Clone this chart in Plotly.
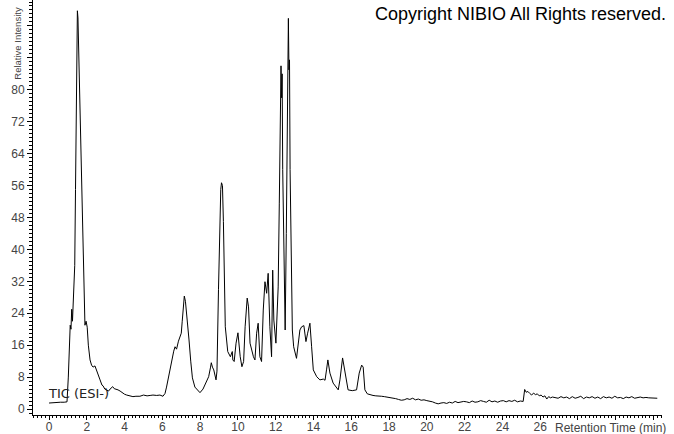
import plotly.graph_objects as go

# Retention time (min) and relative intensity
time_min = [
    0.00, 0.20, 0.40, 0.60, 0.80, 0.95, 1.02, 1.08, 1.12, 1.16, 1.20, 1.24, 1.28, 1.32, 1.36,
    1.40, 1.44, 1.47, 1.50, 1.53, 1.56, 1.59, 1.64, 1.69, 1.75, 1.80, 1.85, 1.90, 1.96, 2.02,
    2.08, 2.17, 2.25, 2.33, 2.43, 2.50, 2.59, 2.70, 2.80, 2.86, 2.95, 3.07, 3.15, 3.23, 3.30,
    3.37, 3.45, 3.55, 3.65, 3.76, 3.90, 4.00, 4.11, 4.25, 4.44, 4.60, 4.81, 5.00, 5.19, 5.35,
    5.50, 5.70, 5.87, 6.03, 6.14, 6.22, 6.30, 6.40, 6.51, 6.60, 6.67, 6.75, 6.85, 6.93, 7.00,
    7.05, 7.10, 7.16, 7.22, 7.30, 7.41, 7.50, 7.59, 7.72, 7.85, 7.99, 8.15, 8.30, 8.45, 8.55,
    8.59, 8.65, 8.72, 8.84, 8.89, 8.97, 9.03, 9.09, 9.13, 9.18, 9.23, 9.29, 9.33, 9.46, 9.60,
    9.70, 9.73, 9.80, 9.90, 10.00, 10.12, 10.21, 10.30, 10.38, 10.49, 10.56, 10.64, 10.82, 10.90, 10.99,
    11.07, 11.16, 11.25, 11.34, 11.43, 11.52, 11.60, 11.69, 11.78, 11.84, 11.90, 12.01, 12.13, 12.19, 12.24,
    12.28, 12.31, 12.34, 12.37, 12.42, 12.50, 12.56, 12.60, 12.63, 12.67, 12.70, 12.73, 12.76, 12.82, 12.88,
    12.95, 13.10, 13.28, 13.37, 13.49, 13.60, 13.69, 13.81, 13.90, 13.99, 14.17, 14.34, 14.52, 14.61, 14.69,
    14.76, 14.87, 15.04, 15.31, 15.40, 15.54, 15.66, 15.83, 16.05, 16.28, 16.42, 16.55, 16.63, 16.72, 16.85,
    17.00, 17.15, 17.30, 17.45, 17.60, 17.75, 17.90, 18.05, 18.20, 18.35, 18.50, 18.65, 18.80, 18.95, 19.10,
    19.25, 19.40, 19.55, 19.70, 19.85, 20.00, 20.15, 20.30, 20.45, 20.60, 20.75, 20.90, 21.05, 21.20, 21.35,
    21.50, 21.65, 21.80, 21.95, 22.10, 22.25, 22.40, 22.55, 22.70, 22.85, 23.00, 23.15, 23.30, 23.45, 23.60,
    23.75, 23.90, 24.05, 24.20, 24.35, 24.50, 24.65, 24.80, 24.95, 25.10, 25.18, 25.26, 25.35, 25.45, 25.55,
    25.65, 25.75, 25.85, 25.95, 26.05, 26.15, 26.25, 26.35, 26.45, 26.55, 26.65, 26.80, 26.95, 27.10, 27.25,
    27.40, 27.55, 27.70, 27.85, 28.00, 28.15, 28.30, 28.45, 28.60, 28.75, 28.90, 29.05, 29.20, 29.35, 29.50,
    29.65, 29.80, 29.95, 30.10, 30.25, 30.40, 30.55, 30.70, 30.85, 31.00, 31.15, 31.30, 31.45, 31.60, 31.75,
    31.90, 32.05, 32.20,
]
intensity = [
    1.5, 1.6, 1.7, 1.7, 1.7, 1.8, 8.0, 18.0, 21.0, 20.0, 25.0, 22.0, 26.0, 31.0, 36.0,
    55.0, 80.0, 97.0, 99.8, 98.0, 92.0, 80.5, 69.0, 61.5, 52.0, 38.0, 26.0, 21.0, 22.0, 20.5,
    16.0, 12.3, 11.0, 10.5, 10.8, 10.0, 9.0, 7.3, 6.0, 5.8, 5.0, 4.6, 4.5, 5.0, 5.4,
    5.6, 5.1, 5.0, 4.8, 4.5, 4.0, 3.7, 3.5, 3.4, 3.1, 3.2, 3.2, 3.5, 3.3, 3.4,
    3.5, 3.4, 3.5, 3.2, 3.9, 5.5, 7.5, 10.5, 13.0, 14.5, 15.6, 15.0, 17.0, 18.0, 19.0,
    22.0, 26.0, 28.3, 27.0, 22.0, 17.3, 12.0, 7.8, 5.5, 4.8, 4.1, 5.0, 6.5, 8.1, 10.5,
    11.6, 10.5, 9.8, 7.3, 9.5, 30.0, 44.0, 55.0, 56.7, 56.0, 47.0, 30.0, 20.6, 14.4, 13.1,
    14.4, 12.3, 11.9, 16.5, 19.1, 13.1, 10.6, 11.9, 20.6, 27.8, 25.6, 16.5, 13.1, 12.3, 19.0,
    21.5, 13.1, 11.9, 24.8, 31.9, 29.0, 34.0, 20.6, 13.1, 34.8, 22.3, 16.5, 30.6, 51.6, 70.0,
    86.0, 78.0, 84.0, 60.0, 40.0, 19.8, 44.0, 70.0, 83.0, 97.9, 85.0, 87.5, 60.0, 35.0, 19.8,
    15.6, 12.7, 19.8, 20.6, 20.9, 16.9, 19.0, 21.5, 15.6, 9.8, 8.1, 7.3, 7.5, 7.2, 9.8,
    12.3, 9.0, 6.5, 4.8, 7.3, 12.8, 9.0, 4.8, 4.6, 4.8, 9.0, 11.0, 10.5, 4.8, 3.8,
    3.5, 3.4, 3.3, 3.3, 3.2, 3.1, 3.0, 2.9, 2.7, 2.6, 2.4, 2.2, 2.3, 2.6, 2.4,
    2.7, 2.3, 2.5, 2.2, 2.3, 2.1, 2.0, 1.8, 1.5, 1.3, 1.5, 1.6, 1.4, 1.7, 1.5,
    1.9, 1.6, 1.7, 1.9, 1.8, 1.6, 2.0, 1.7, 1.8, 2.1, 1.9, 1.7, 2.2, 1.8, 2.0,
    1.7, 2.0, 2.1, 1.8, 2.1, 1.9, 2.2, 1.8, 2.0, 1.9, 4.9, 4.2, 4.4, 3.9, 3.5,
    4.0, 3.6, 3.8, 3.3, 3.5, 3.0, 3.3, 2.5, 3.1, 2.8, 3.0, 2.9, 2.7, 3.1, 2.8,
    3.0, 2.6, 3.1, 2.7, 2.9, 3.2, 2.6, 3.0, 2.8, 3.1, 2.7, 3.0, 2.6, 3.1, 2.8,
    3.0, 2.7, 3.2, 2.8, 2.9, 2.6, 3.0, 2.8, 3.1, 2.7, 2.9, 3.0, 2.8, 2.9, 2.8,
    2.8, 2.7, 2.7,
]

x_tick_vals = list(range(0, 34, 2))
x_tick_text = [str(v) if v <= 26 else "" for v in x_tick_vals]
y_tick_vals = list(range(0, 100, 8))
y_tick_text = [str(v) if v <= 80 else "" for v in y_tick_vals]

fig = go.Figure()
fig.add_trace(go.Scatter(
    x=time_min, y=intensity, mode="lines",
    line=dict(color="black", width=1), hoverinfo="skip", showlegend=False,
))

axis_font = dict(family="Liberation Sans, Arial, sans-serif", size=12, color="#444444")
fig.update_layout(
    width=674, height=434,
    margin=dict(l=33, r=12, t=0, b=19, autoexpand=False),
    paper_bgcolor="white", plot_bgcolor="white",
    xaxis=dict(
        range=[-0.85, 32.45], tickvals=x_tick_vals, ticktext=x_tick_text,
        showline=True, linecolor="black", linewidth=1, mirror=False,
        ticks="outside", ticklen=4, tickcolor="black", tickfont=axis_font,
        ticklabelstandoff=-3,
        showgrid=False, zeroline=False, automargin=False,
        minor=dict(dtick=0.2, tick0=0, ticks="outside", ticklen=2, tickcolor="black", showgrid=False),
    ),
    yaxis=dict(
        range=[-1.5, 102.5], tickvals=y_tick_vals, ticktext=y_tick_text,
        showline=True, linecolor="black", linewidth=1,
        ticks="outside", ticklen=5, tickcolor="black", tickfont=axis_font,
        showgrid=False, zeroline=False, automargin=False,
        minor=dict(dtick=1, tick0=0, ticks="outside", ticklen=3, tickcolor="black", showgrid=False),
    ),
    annotations=[
        dict(text="Copyright NIBIO All Rights reserved.", xref="paper", yref="paper",
             x=1.0, y=1.0, xanchor="right", yanchor="top", xshift=6, yshift=-2, showarrow=False,
             font=dict(family="Liberation Sans, Arial, sans-serif", size=18, color="black")),
        dict(text="Relative Intensity", xref="paper", yref="paper", x=-0.0238, y=0.802,
             xanchor="center", yanchor="bottom", textangle=-90, showarrow=False,
             font=dict(family="Liberation Sans, Arial, sans-serif", size=9.5, color="#444444")),
        dict(text="Retention Time (min)", xref="paper", yref="paper", x=1.0, y=0,
             xanchor="right", yanchor="top", xshift=6, yshift=-4, showarrow=False,
             font=dict(family="Liberation Sans, Arial, sans-serif", size=12, color="#444444")),
        dict(text="TIC (ESI-)", xref="x", yref="y", x=-0.15, y=4.0,
             xanchor="left", yanchor="middle", showarrow=False,
             font=dict(family="DejaVu Sans, Tahoma, sans-serif", size=13, color="#222222")),
    ],
)

fig.write_html("out.html", config={"displayModeBar": False},
               post_script="document.body.style.margin='0';document.body.style.padding='0';")
